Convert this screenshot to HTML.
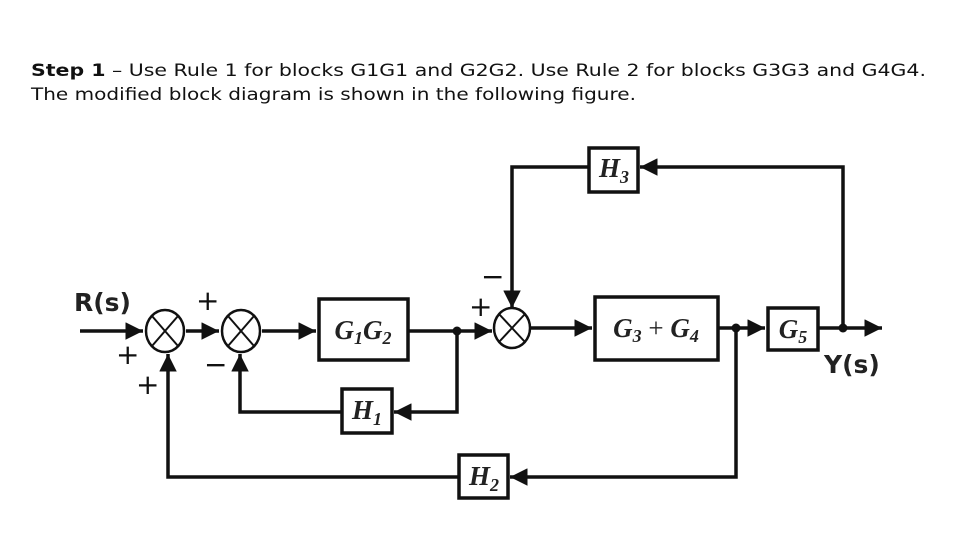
<!DOCTYPE html>
<html><head><meta charset="utf-8"><style>
html,body{margin:0;padding:0;background:#fff;}
svg{display:block;}
</style></head><body>
<svg width="960" height="540" viewBox="0 0 960 540" xmlns="http://www.w3.org/2000/svg">
<defs>
<marker id="a" viewBox="0 0 10 10" refX="10" refY="5" markerWidth="5" markerHeight="5" orient="auto" markerUnits="strokeWidth"><path d="M0,0 L10,5 L0,10 z" fill="#111"/></marker>
</defs>
<g font-family="DejaVu Sans, Verdana, sans-serif" font-size="16.5" fill="#111">
<text x="31" y="76" textLength="895" lengthAdjust="spacingAndGlyphs"><tspan font-weight="bold">Step 1</tspan> – Use Rule 1 for blocks G1G1 and G2G2. Use Rule 2 for blocks G3G3 and G4G4.</text>
<text x="31" y="100" textLength="605" lengthAdjust="spacingAndGlyphs">The modified block diagram is shown in the following figure.</text>
</g>
<g stroke="#111" stroke-width="3.5" fill="none">
<line x1="80" y1="331" x2="143" y2="331" marker-end="url(#a)"/>
<line x1="186" y1="331" x2="219" y2="331" marker-end="url(#a)"/>
<line x1="262" y1="331" x2="316" y2="331" marker-end="url(#a)"/>
<line x1="408" y1="331" x2="492" y2="331" marker-end="url(#a)"/>
<line x1="531" y1="328" x2="592" y2="328" marker-end="url(#a)"/>
<line x1="718" y1="328" x2="765" y2="328" marker-end="url(#a)"/>
<line x1="818" y1="328" x2="882" y2="328" marker-end="url(#a)"/>
<polyline points="457,331 457,412 394,412" marker-end="url(#a)"/>
<polyline points="341,412 240,412 240,354" marker-end="url(#a)"/>
<polyline points="736,328 736,477 510,477" marker-end="url(#a)"/>
<polyline points="459,477 168,477 168,354" marker-end="url(#a)"/>
<polyline points="843,328 843,167 640,167" marker-end="url(#a)"/>
<polyline points="589,167 512,167 512,308" marker-end="url(#a)"/>
<rect x="319" y="299" width="89" height="61"/>
<rect x="342" y="389" width="50" height="44"/>
<rect x="459" y="455" width="49" height="43"/>
<rect x="589" y="148" width="49" height="44"/>
<rect x="595" y="297" width="123" height="63"/>
<rect x="768" y="308" width="50" height="42"/>
</g>
<g stroke="#111" stroke-width="2.5" fill="#fff">
<ellipse cx="165" cy="331" rx="19" ry="21"/>
<ellipse cx="241" cy="331" rx="19" ry="21"/>
<ellipse cx="512" cy="328" rx="18" ry="20"/>
</g>
<g stroke="#111" stroke-width="2">
<line x1="152" y1="316" x2="178" y2="346"/><line x1="178" y1="316" x2="152" y2="346"/>
<line x1="228" y1="316" x2="254" y2="346"/><line x1="254" y1="316" x2="228" y2="346"/>
<line x1="499" y1="314" x2="525" y2="342"/><line x1="525" y1="314" x2="499" y2="342"/>
</g>
<g fill="#111">
<circle cx="457" cy="331" r="4.5"/><circle cx="736" cy="328" r="4.5"/><circle cx="843" cy="328" r="4.5"/>
</g>
<g font-family="Liberation Serif, serif" font-style="italic" font-weight="bold" fill="#222" font-size="27" text-anchor="middle">
<text x="363" y="339">G<tspan font-size="18" dy="5">1</tspan><tspan dy="-5">G</tspan><tspan font-size="18" dy="5">2</tspan></text>
<text x="367" y="419">H<tspan font-size="18" dy="6">1</tspan></text>
<text x="484" y="485">H<tspan font-size="18" dy="6">2</tspan></text>
<text x="614" y="177">H<tspan font-size="18" dy="6">3</tspan></text>
<text x="656" y="337">G<tspan font-size="18" dy="5">3</tspan><tspan dy="-5" font-style="normal" font-weight="normal"> + </tspan>G<tspan font-size="18" dy="5">4</tspan></text>
<text x="793" y="338">G<tspan font-size="18" dy="5">5</tspan></text>
</g>
<g font-family="DejaVu Sans, sans-serif" font-weight="bold" fill="#222" font-size="25">
<text x="74" y="311">R(s)</text>
<text x="824" y="373">Y(s)</text>
</g>
<g font-family="DejaVu Sans, sans-serif" fill="#111" font-size="28">
<text x="196" y="310">+</text>
<text x="116" y="364">+</text>
<text x="136" y="394">+</text>
<text x="469" y="316">+</text>
<text x="204" y="374">−</text>
<text x="481" y="286">−</text>
</g>
</svg>
</body></html>
